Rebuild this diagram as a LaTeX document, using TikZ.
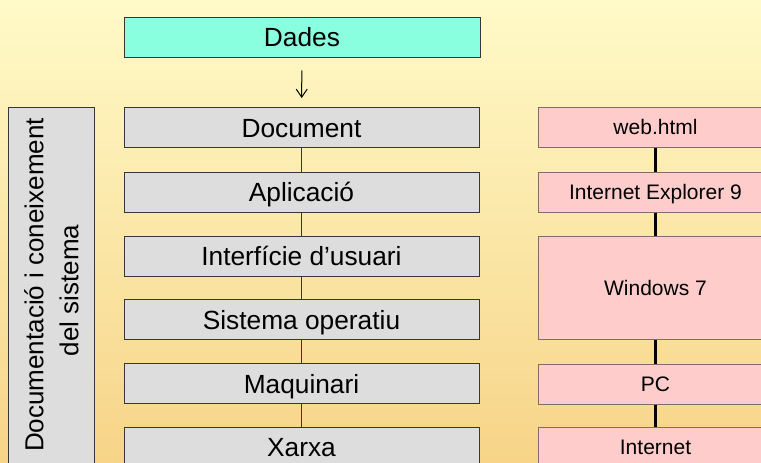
\documentclass[tikz,border=0pt]{standalone}
\usepackage{fontspec}
\setmainfont{Liberation Sans}
\usetikzlibrary{arrows.meta}
\definecolor{bgtop}{RGB}{255,250,200}
\definecolor{bgbot}{RGB}{247,212,136}
\definecolor{aqua}{RGB}{138,255,224}
\definecolor{grayfill}{RGB}{221,221,221}
\definecolor{pinkfill}{RGB}{255,204,204}
\definecolor{grayedge}{RGB}{55,55,55}
\definecolor{pinkedge}{RGB}{125,110,105}
\tikzset{
  bigtext/.style={font=\fontsize{26.3}{34}\selectfont, text height=19pt, text depth=0pt, inner sep=0pt},
  smalltext/.style={font=\fontsize{21}{26}\selectfont, text height=15pt, text depth=0pt, inner sep=0pt},
  graybox/.style={bigtext, rectangle, draw=grayedge, line width=1pt, fill=grayfill, minimum width=355pt, minimum height=40pt},
  databox/.style={graybox, fill=aqua},
  pinkbox/.style={smalltext, rectangle, draw=pinkedge, line width=1pt, fill=pinkfill, minimum width=235pt, minimum height=40pt},
  leftbox/.style={rectangle, draw=grayedge, line width=1pt, fill=grayfill, minimum width=86pt, minimum height=370pt, inner sep=0pt},
  sidetext/.style={font=\fontsize{26}{34}\selectfont, inner sep=0pt, rotate=90, anchor=base},
  stackline/.style={draw=grayedge, line width=1pt},
  rightline/.style={draw=black, line width=2.5pt},
}
\begin{document}
\begin{tikzpicture}[x=1pt,y=-1pt]
\useasboundingbox (0,0) rectangle (761,463);
\clip (0,0) rectangle (761,463);
\shade[top color=bgtop, bottom color=bgbot] (0,0) rectangle (761,463);

% left box
\node[leftbox] (side) at (51,292) {};
\node[sidetext] (sideA) at (43.3,285) {Documentació i coneixement};
\node[sidetext] (sideB) at (78.3,290.5) {del sistema};

% middle stack
\node[databox, minimum width=356pt] (dades) at (302,37) {Dades};
\node[graybox] (doc) at (301.5,127.5) {Document};
\node[graybox] (app) at (301.5,192) {Aplicació};
\node[graybox] (ui) at (301.5,256) {Interfície d’usuari};
\node[graybox] (os) at (301.5,319.5) {Sistema operatiu};
\node[graybox] (hw) at (301.5,383.5) {Maquinari};
\node[graybox] (net) at (301.5,447) {Xarxa};

\draw[line width=1pt, -{Straight Barb[length=8pt,width=11pt]}, shorten <=13pt, shorten >=9pt] (dades) -- (doc);
\draw[stackline] (doc) -- (app);
\draw[stackline] (app) -- (ui);
\draw[stackline] (ui) -- (os);
\draw[stackline] (os) -- (hw);
\draw[stackline] (hw) -- (net);

% right stack
\node[pinkbox] (web) at (655.5,127) {web.html};
\node[pinkbox] (ie) at (655.5,192) {Internet Explorer 9};
\node[pinkbox, minimum height=103pt] (win) at (655.5,287.5) {Windows 7};
\node[pinkbox] (pc) at (655.5,384) {PC};
\node[pinkbox] (inet) at (655.5,447) {Internet};

\draw[rightline] (web) -- (ie);
\draw[rightline] (ie) -- (win);
\draw[rightline] (win) -- (pc);
\draw[rightline] (pc) -- (inet);
\end{tikzpicture}
\end{document}
